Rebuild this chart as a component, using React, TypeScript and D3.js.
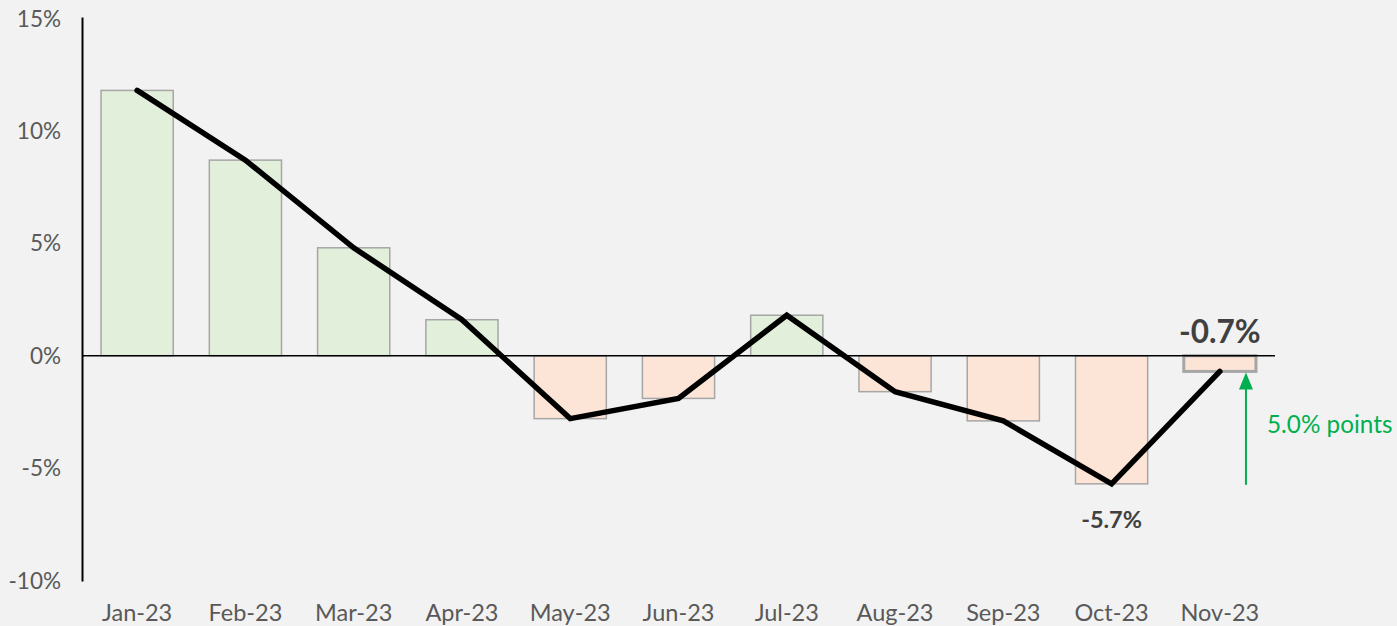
import React from "react";
import * as d3 from "d3";

const categories = ["Jan-23","Feb-23","Mar-23","Apr-23","May-23","Jun-23","Jul-23","Aug-23","Sep-23","Oct-23","Nov-23"];
const values = [11.8, 8.7, 4.8, 1.6, -2.8, -1.9, 1.8, -1.6, -2.9, -5.7, -0.7];
const yTicks = [15, 10, 5, 0, -5, -10];
const annotationText = "5.0% points";
const lastLabel = "-0.7%";
const minLabel = "-5.7%";

const W = 1397, H = 626;

export default function App() {
  const x = d3.scaleBand<string>().domain(categories).range([83, 1274]).paddingInner(1 / 3).paddingOuter(1 / 6);
  const y = d3.scaleLinear().domain([-10, 15]).range([580.5, 18.5]);
  const line = d3.line<number>().x((_, i) => x(categories[i])! + x.bandwidth() / 2).y(d => y(d));
  const font = "Lato, 'Open Sans', sans-serif";
  const n = values.length - 1;
  const cxLast = x(categories[n])! + x.bandwidth() / 2;
  const cxMin = x(categories[9])! + x.bandwidth() / 2;
  const arrowX = x(categories[n])! + x.bandwidth() - 10;
  const arrowTop = y(values[n]) + 1;
  const arrowBottom = y(-5.7) + 1;
  return (
    <svg width={W} height={H} style={{ position: "absolute", left: 0, top: 0, display: "block" }} fontFamily={font}>
      <rect width={W} height={H} fill="#f2f2f2" />
      {values.map((v, i) => {
        const last = i === n;
        return (
          <rect key={categories[i]} x={x(categories[i])} width={x.bandwidth()}
            y={Math.min(y(v), y(0))} height={Math.abs(y(v) - y(0))}
            fill={v >= 0 ? "#e2efda" : "#fce4d6"} stroke="#a6a6a6" strokeWidth={last ? 3 : 1.5} />
        );
      })}
      <line x1={82} x2={1275} y1={y(0)} y2={y(0)} stroke="#000" strokeWidth={1.5} />
      <line x1={82.5} x2={82.5} y1={y(15) - 1} y2={y(-10) + 1} stroke="#000" strokeWidth={2} />
      {yTicks.map(t => (
        <text key={t} x={61} y={y(t)} dy="0.36em" textAnchor="end" fontSize={22.5} fill="#595959">{t}%</text>
      ))}
      {categories.map(c => (
        <text key={c} x={x(c)! + x.bandwidth() / 2} y={621} textAnchor="middle" fontSize={23.5} fill="#595959">{c}</text>
      ))}
      <path d={line(values)!} fill="none" stroke="#000" strokeWidth={5.5} strokeLinecap="round" strokeLinejoin="miter" />
      <text x={cxLast} y={343} textAnchor="middle" fontSize={31.5} fontWeight="bold" fill="#404040">{lastLabel}</text>
      <text x={cxMin} y={528} textAnchor="middle" fontSize={23.5} fontWeight="bold" fill="#404040">{minLabel}</text>
      <line x1={arrowX} x2={arrowX} y1={arrowBottom} y2={arrowTop + 14} stroke="#00b050" strokeWidth={2} />
      <path d={`M${arrowX},${arrowTop} L${arrowX - 7},${arrowTop + 17} L${arrowX + 7},${arrowTop + 17} Z`} fill="#00b050" />
      <text x={1267} y={433} fontSize={24.3} fill="#00b050">{annotationText}</text>
    </svg>
  );
}
